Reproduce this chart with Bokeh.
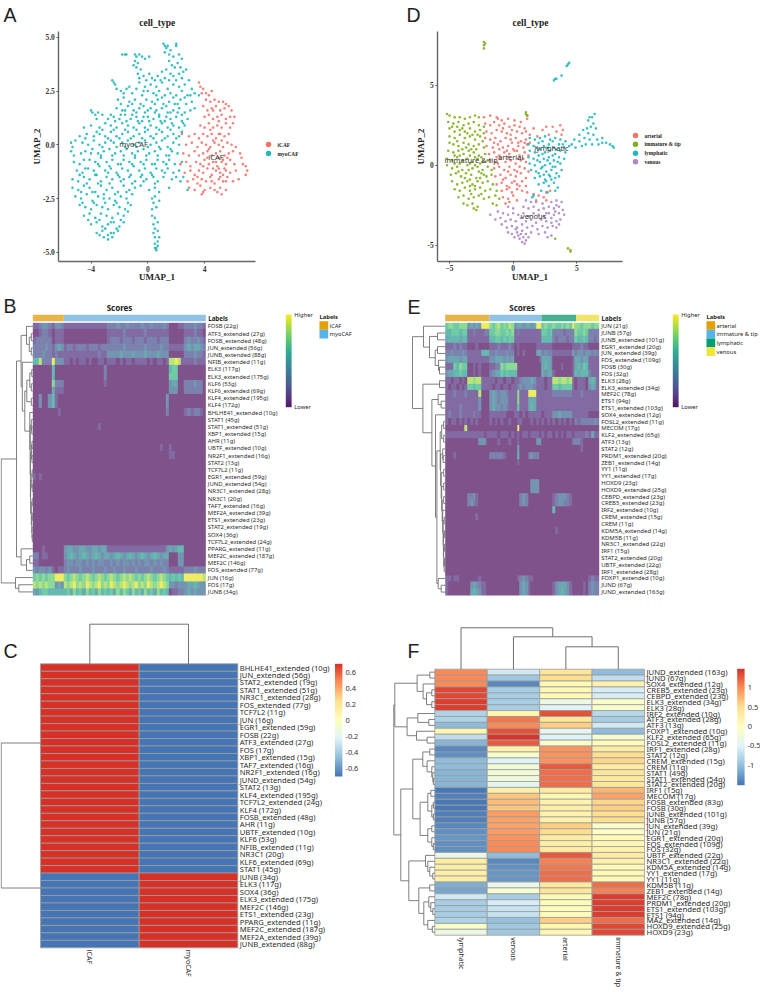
import numpy as np
from bokeh.core.properties import value
from bokeh.embed import file_html
from bokeh.layouts import column, row
from bokeh.models import ColumnDataSource, FixedTicker, LinearAxis, LinearColorMapper, NumeralTickFormatter, Range1d
from bokeh.palettes import Viridis256
from bokeh.plotting import figure
from bokeh.resources import INLINE

# ---------- panel A points (UMAP_1, UMAP_2) ----------
myocaf_points = [
(1.1,4.7),(1.2,4.6),(1.3,4.5),(1.4,4.6),(2.0,4.7),(2.0,4.6),(1.6,4.4),(1.2,4.3),(1.5,4.2),(1.8,4.1),(2.2,4.2),(2.4,4.0),(-1.8,4.2),(-1.6,4.2),(-1.5,4.2),(-0.9,4.2),(-0.8,4.1),(-0.6,4.2),(-0.4,4.1),(-0.2,4.0),(0.1,4.1),
(-0.9,3.9),(-0.7,3.8),(-0.8,3.6),(-1.0,3.7),(-0.5,3.5),(1.5,3.9),(1.7,3.7),(1.9,3.6),(2.1,3.8),(2.3,3.6),(2.5,3.4),(2.7,3.5),(1.3,3.5),(1.0,3.4),(-0.7,3.3),(-0.3,3.2),(-0.1,3.0),(0.3,3.1),(0.7,3.2),(1.2,3.1),(1.6,3.3),(2.0,3.0),(2.4,3.1),(2.9,3.0),
(-2.5,3.0),(-2.4,2.9),(-2.3,2.8),(-2.2,2.6),(-0.6,2.9),(-0.2,2.7),(0.2,2.8),(0.6,2.7),(1.0,2.9),(1.4,2.6),(1.8,2.8),(2.2,2.7),(2.6,2.8),(3.1,2.6),(-1.9,2.5),(-1.5,2.6),(-1.1,2.4),(-0.8,2.6),(-0.4,2.3),(0.0,2.5),(0.4,2.4),(0.8,2.5),(1.2,2.3),(1.6,2.4),(2.0,2.3),(2.4,2.5),(2.8,2.3),(3.3,2.4),(3.6,2.3),
(-2.1,2.1),(-1.7,2.2),(-1.3,2.0),(-0.9,2.1),(-0.5,1.9),(-0.1,2.1),(0.3,2.0),(0.7,2.1),(1.1,1.9),(1.5,2.0),(1.9,1.9),(2.3,2.1),(2.7,1.9),(3.1,2.0),(3.3,1.7),(-4.0,1.6),(-3.9,1.5),(-3.7,1.4),(-3.5,1.5),(-3.2,1.4),(-2.2,1.7),(-1.8,1.6),(-1.4,1.8),(-1.0,1.6),(-0.6,1.7),(-0.2,1.5),(0.2,1.7),(0.6,1.6),(1.0,1.7),(1.4,1.5),(1.8,1.6),(2.2,1.7),(2.6,1.5),(3.0,1.6),
(-3.6,1.2),(-2.8,1.2),(-2.4,1.3),(-2.0,1.2),(-1.6,1.4),(-1.2,1.2),(-0.8,1.3),(-0.4,1.1),(0.0,1.3),(0.4,1.2),(0.8,1.3),(1.2,1.1),(1.6,1.2),(2.0,1.3),(2.4,1.1),(2.8,1.2),(-4.5,0.8),(-4.0,0.9),(-3.4,0.8),(-3.0,1.0),(-2.6,0.9),(-2.2,0.8),(-1.8,1.0),(-1.4,0.9),(-1.0,0.8),(-0.6,1.0),(-0.2,0.8),(0.2,0.9),(0.6,0.8),(1.0,1.0),(1.4,0.8),(1.8,0.9),(2.2,0.8),(2.6,0.9),
(-4.8,0.4),(-4.3,0.5),(-3.8,0.4),(-3.4,0.5),(-3.0,0.4),(-2.6,0.6),(-2.2,0.4),(-1.8,0.5),(-1.4,0.6),(-1.0,0.4),(-0.6,0.5),(-0.2,0.6),(0.2,0.4),(0.6,0.5),(1.0,0.6),(1.4,0.4),(1.8,0.5),(2.2,0.4),(-5.4,0.1),(-5.3,-0.1),(-5.1,0.2),(-4.6,0.1),(-4.2,0.0),(-3.8,0.2),(-3.4,0.0),(-3.0,0.1),(-2.6,0.2),(-2.2,-0.1),(-1.8,0.1),(-1.4,0.2),(-1.0,0.0),(-0.6,0.1),(-0.2,0.2),(0.2,0.0),(0.6,0.1),(1.0,0.2),(1.4,-0.1),(1.8,0.1),(2.2,0.0),
(-5.4,-0.3),(-5.2,-0.5),(-4.7,-0.4),(-4.4,-0.3),(-3.9,-0.2),(-3.5,-0.4),(-3.1,-0.3),(-2.7,-0.2),(-2.3,-0.4),(-1.9,-0.3),(-1.5,-0.2),(-1.1,-0.4),(-0.7,-0.3),(-0.3,-0.2),(0.1,-0.4),(0.5,-0.3),(0.9,-0.2),(1.3,-0.5),(1.7,-0.3),(2.1,-0.4),(-5.2,-0.8),(-4.8,-0.9),(-4.1,-0.7),(-3.7,-0.8),(-3.3,-0.6),(-2.9,-0.8),(-2.5,-0.7),(-2.1,-0.9),(-1.7,-0.7),(-1.3,-0.8),(-0.9,-0.6),(-0.5,-0.8),(-0.1,-0.7),(0.3,-0.9),(0.7,-0.7),(1.1,-0.8),(1.5,-0.7),(1.9,-0.9),(2.4,-0.8),
(-5.0,-1.2),(-4.6,-1.3),(-4.2,-1.1),(-3.8,-1.2),(-3.4,-1.0),(-3.0,-1.2),(-2.6,-1.1),(-2.2,-1.3),(-1.8,-1.1),(-1.4,-1.2),(-1.0,-1.0),(-0.6,-1.2),(-0.2,-1.1),(0.2,-1.3),(0.6,-1.1),(1.0,-1.2),(1.4,-1.1),(1.8,-1.3),(2.2,-1.2),(-5.3,-1.6),(-4.9,-1.7),(-4.5,-1.5),(-4.1,-1.6),(-3.7,-1.4),(-3.3,-1.7),(-2.9,-1.5),(-2.5,-1.6),(-2.1,-1.4),(-1.7,-1.6),(-1.3,-1.5),(-0.9,-1.7),(-0.5,-1.5),(-0.1,-1.6),(0.3,-1.4),(0.7,-1.7),(1.1,-1.5),(1.7,-1.6),(2.3,-1.7),(2.5,-1.5),
(-5.3,-2.0),(-4.9,-2.1),(-4.5,-1.9),(-4.1,-2.0),(-3.7,-2.2),(-3.3,-1.9),(-2.9,-2.1),(-2.5,-2.0),(-2.1,-2.2),(-1.7,-1.9),(-1.3,-2.1),(-0.9,-2.0),(-0.5,-1.9),(0.1,-2.1),(0.5,-2.0),(0.8,-2.2),(1.5,-2.0),(2.8,-2.1),(-5.1,-2.4),(-4.7,-2.5),(-4.3,-2.3),(-3.9,-2.6),(-3.5,-2.4),(-3.1,-2.3),(-2.7,-2.5),(-2.3,-2.6),(-1.9,-2.4),(-1.5,-2.5),(-1.1,-2.3),(0.3,-2.5),(0.5,-2.4),(0.8,-2.6),(0.4,-2.7),
(-4.8,-2.8),(-4.4,-2.9),(-4.0,-3.0),(-3.6,-2.8),(-3.2,-2.9),(-2.8,-3.0),(-2.4,-2.8),(-2.0,-2.9),(-1.6,-3.0),(-1.2,-2.8),(0.3,-3.0),(0.6,-2.9),(-4.5,-3.3),(-4.1,-3.2),(-3.7,-3.4),(-3.3,-3.2),(-2.9,-3.3),(-2.5,-3.4),(-2.1,-3.2),(-1.7,-3.3),(-1.4,-3.1),(0.3,-3.3),(0.5,-3.4),(-4.0,-3.7),(-3.6,-3.6),(-3.2,-3.8),(-2.8,-3.7),(-2.4,-3.6),(-2.0,-3.8),(-1.7,-3.6),(0.4,-3.7),(0.7,-3.6),(0.5,-3.9),
(-3.6,-4.1),(-3.2,-4.0),(-2.8,-4.2),(-2.4,-4.1),(-2.1,-4.0),(0.4,-4.1),(0.7,-4.0),(0.5,-4.3),(0.8,-4.3),(-3.1,-4.3),(-2.8,-4.4),(-2.5,-4.3),(0.5,-4.6),(0.7,-4.5),(0.6,-4.8),(0.6,-4.9),(0.5,-4.8),(0.7,-4.7),
# denser core of the cloud
(-1.9,1.9),(-1.1,1.9),(-0.3,1.8),(0.5,1.9),(1.3,1.8),(2.1,1.9),(-1.6,1.6),(-0.8,1.5),(0.0,1.6),(0.8,1.4),(1.6,1.5),(2.4,1.4),(-2.6,1.4),(-1.9,1.4),(-1.1,1.4),(-0.3,1.3),(0.5,1.5),(1.3,1.3),(2.1,1.5),(-2.3,1.1),(-1.5,1.1),(-0.7,1.1),(0.1,1.1),(0.9,1.1),(1.7,1.0),(2.5,1.0),(-3.2,0.7),(-2.4,0.7),(-1.6,0.7),(-0.8,0.7),(0.0,0.7),(0.8,0.7),(1.6,0.7),(2.4,0.6),(-3.6,0.6),(-2.8,0.3),(-2.0,0.3),(-1.2,0.3),(-0.4,0.3),(0.4,0.3),(1.2,0.3),(2.0,0.3),
(-4.4,0.3),(-3.2,-0.1),(-2.4,0.1),(-1.6,-0.1),(-0.8,-0.1),(0.0,-0.1),(0.8,-0.1),(1.6,-0.2),(-4.0,-0.4),(-3.3,-0.5),(-2.5,-0.5),(-1.7,-0.5),(-0.9,-0.5),(-0.1,-0.5),(0.7,-0.5),(1.5,-0.5),(-4.5,-0.7),(-3.5,-0.9),(-2.7,-1.0),(-1.9,-0.9),(-1.1,-0.9),(-0.3,-0.9),(0.5,-0.9),(1.3,-0.9),(-4.4,-1.1),(-3.6,-1.4),(-2.8,-1.3),(-2.0,-1.5),(-1.2,-1.4),(-0.4,-1.4),(0.4,-1.5),(1.2,-1.3),(2.0,-1.5),(-4.8,-1.4),(-4.3,-1.8),(-3.5,-1.8),(-2.7,-1.8),(-1.9,-1.7),(-1.1,-1.8),(-0.3,-1.7),(0.5,-1.8),(-4.7,-2.2),(-3.9,-2.2),(-3.1,-2.5),(-2.3,-2.3),(-1.5,-2.2),(-4.6,-2.7),(-3.8,-2.7),(-3.0,-2.7),(-2.2,-2.7),(-1.4,-2.7),(-4.2,-3.5),(-3.4,-3.5),(-2.6,-3.6),(-1.9,-3.5),(-3.4,-4.2),(-2.6,-4.1),(-3.0,-3.9),(-2.2,-3.9),
(-0.6,3.1),(0.1,3.3),(0.5,3.0),(0.9,3.0),(1.5,3.0),(1.8,3.2),(2.2,3.3),(-0.3,2.5),(0.6,2.3),(1.0,2.2),(1.8,2.2),(2.6,2.2),(3.0,2.3),(-1.3,2.7),(-1.7,2.4),
]
icaf_points = [
(3.6,2.9),(3.7,2.7),(3.9,2.6),(3.8,2.4),(4.1,2.4),(4.3,2.3),(4.5,2.5),(4.1,2.1),(4.4,2.0),(4.7,2.1),(5.0,2.0),(5.3,2.0),(5.5,1.9),(3.9,1.8),(4.2,1.6),(4.5,1.7),(4.8,1.8),(5.1,1.6),(5.4,1.7),(5.7,1.8),(5.9,1.6),(4.0,1.3),(4.3,1.4),(4.6,1.2),(4.9,1.3),(5.2,1.4),(5.5,1.2),(5.8,1.3),(6.1,1.3),(6.0,1.0),
(3.7,0.9),(4.0,0.8),(4.3,1.0),(4.6,0.8),(4.9,0.9),(5.2,0.8),(5.5,1.0),(5.8,0.8),(2.4,0.5),(2.9,0.4),(3.3,0.5),(3.6,0.3),(3.9,0.5),(4.2,0.4),(4.5,0.5),(4.8,0.3),(5.1,0.5),(5.4,0.4),(5.7,0.5),(2.7,0.0),(3.1,0.1),(3.5,-0.1),(3.8,0.1),(4.1,0.0),(4.4,-0.1),(4.7,0.1),(5.0,0.0),(5.3,-0.1),(5.6,0.1),(5.9,0.0),(6.2,-0.1),
(2.5,-0.4),(2.9,-0.5),(3.3,-0.3),(3.6,-0.5),(3.9,-0.4),(4.2,-0.3),(4.5,-0.5),(4.8,-0.4),(5.1,-0.3),(5.4,-0.5),(5.7,-0.4),(6.0,-0.3),(6.5,-0.4),(6.6,-0.6),(2.3,-0.9),(2.7,-0.8),(3.0,-1.0),(3.4,-0.8),(3.7,-0.9),(4.0,-0.7),(4.3,-0.9),(4.6,-0.8),(4.9,-1.0),(5.2,-0.8),(5.5,-0.9),(5.8,-0.7),(6.1,-0.9),(6.7,-0.9),(6.9,-1.0),
(2.6,-1.3),(3.0,-1.2),(3.3,-1.4),(3.6,-1.2),(3.9,-1.3),(4.2,-1.1),(4.5,-1.4),(4.8,-1.2),(5.1,-1.3),(5.3,-1.4),(5.5,-1.2),(5.8,-1.3),(6.2,-1.2),(6.9,-1.4),(7.0,-1.2),(2.8,-1.7),(3.2,-1.6),(3.5,-1.8),(3.8,-1.6),(4.1,-1.7),(4.4,-1.5),(4.7,-1.8),(5.0,-1.6),(5.3,-1.7),(5.6,-1.5),(6.0,-1.7),(6.4,-1.6),
(2.9,-2.0),(3.3,-2.1),(3.7,-1.9),(4.0,-2.1),(4.4,-2.0),(4.7,-2.1),(5.1,-2.0),(5.5,-2.1),(3.8,-2.3),(3.9,-2.2),(4.9,-2.2),(5.2,-2.3),
(4.6,1.6),(5.0,1.1),(4.4,0.7),(5.0,0.5),(4.6,0.2),(5.2,0.2),(4.3,-0.2),(5.0,-0.6),(5.3,-0.7),(4.6,-1.1),(5.0,-1.1),(5.4,-1.1),(5.1,-1.5),(4.5,-1.7),(5.5,-1.7),(3.5,-1.5),(3.9,-1.0),(4.2,-0.6),(4.8,-0.8),(5.6,-0.6),
]

# ---------- panel D points ----------
arterial_points = [
(-2.3,3.0),(-1.8,3.1),(-1.3,3.0),(-1.2,2.9),(-0.9,2.8),(-0.4,2.9),(0.1,2.8),(0.6,2.7),(1.1,3.1),(1.1,2.9),(-2.2,2.6),(-1.8,2.5),(-1.5,2.7),(-1.1,2.5),(-0.7,2.6),(-0.3,2.4),(0.1,2.5),(0.5,2.4),(0.9,2.3),(-2.1,2.1),(-1.7,2.0),(-1.3,2.2),(-0.9,2.1),(-0.5,2.0),(-0.1,2.2),(0.3,2.1),(0.7,2.0),(1.0,2.1),(1.3,1.9),(-2.2,1.7),(-1.8,1.6),(-1.4,1.7),(-1.0,1.5),(-0.6,1.7),(-0.2,1.6),(0.2,1.7),(0.6,1.5),(1.0,1.6),(1.3,1.4),
(-2.1,1.2),(-1.6,1.1),(-1.2,1.3),(-0.8,1.1),(-0.4,1.2),(0.0,1.0),(0.4,1.2),(0.8,1.1),(1.1,1.3),(-1.9,0.7),(-1.5,0.8),(-1.1,0.6),(-0.7,0.8),(-0.3,0.7),(0.1,0.9),(0.5,0.6),(0.9,0.8),(1.2,0.6),(-1.8,0.3),(-1.4,0.2),(-1.0,0.4),(-0.6,0.2),(-0.2,0.3),(0.2,0.1),(0.6,0.3),(1.0,0.2),(-1.5,-0.2),(-1.1,-0.1),(-0.7,-0.3),(-0.3,-0.1),(0.1,-0.3),(0.5,-0.1),(0.9,-0.2),(1.2,-0.4),(-1.4,-0.7),(-1.0,-0.6),(-0.6,-0.8),(-0.2,-0.6),(0.2,-0.7),(0.6,-0.5),(1.0,-0.8),
(-1.3,-1.2),(-0.9,-1.1),(-0.5,-1.3),(-0.1,-1.1),(0.3,-1.2),(0.7,-1.0),(1.0,-1.3),(-0.9,-1.6),(-0.5,-1.5),(-0.1,-1.7),(0.3,-1.5),(0.7,-1.6),(1.1,-1.7),(-0.8,-2.0),(-0.4,-2.1),(0.0,-1.9),(0.3,-2.2),(-0.6,-2.4),(-0.3,-2.3),(1.6,-1.8),(2.0,-1.9),(2.4,-2.0),(2.6,-1.7),(2.9,-1.6),(1.8,-2.3),(2.6,-2.2),(1.9,1.8),(2.3,2.2),(2.8,1.9),(3.1,2.4),(3.4,2.1),(3.7,2.5),(3.9,2.2),(3.8,1.9),(2.6,2.4),(1.6,2.3),
(-0.8,2.3),(-0.2,1.9),(0.4,1.4),(-1.1,1.0),(-0.5,0.9),(0.3,0.9),(-1.3,0.5),(-0.4,0.5),(0.4,0.4),(-1.2,0.1),(-0.4,-0.4),(0.3,-0.4),(-0.8,-0.9),(0.1,-1.0),(0.5,-1.3),(-0.3,-1.4),(0.8,0.4),(0.9,1.4),(-0.1,1.4),(-1.5,1.4),
]
immature_points = [
(-2.3,7.7),(-2.2,7.6),(-2.3,7.5),(-2.3,7.3),(1.0,3.3),(1.0,3.2),(1.1,3.1),(4.5,-5.4),(4.3,-5.2),(4.5,-5.3),(3.3,-4.6),
(-5.2,3.2),(-5.0,3.1),(-4.6,3.0),(-4.2,3.0),(-3.8,2.9),(-3.4,3.0),(-3.0,3.1),(-2.7,3.0),(-5.1,2.7),(-4.7,2.6),(-4.3,2.7),(-3.9,2.5),(-3.5,2.6),(-3.1,2.7),(-2.7,2.5),(-2.3,2.4),(-5.0,2.3),(-4.6,2.1),(-4.2,2.2),(-3.8,2.1),(-3.4,2.3),(-3.0,2.1),(-2.6,2.2),(-2.3,2.0),(-5.0,1.8),(-4.6,1.7),(-4.2,1.9),(-3.8,1.7),(-3.4,1.8),(-3.0,1.6),(-2.6,1.8),(-2.4,1.5),
(-5.0,1.4),(-4.7,1.3),(-4.3,1.2),(-3.9,1.4),(-3.5,1.3),(-3.1,1.2),(-2.7,1.3),(-2.3,1.1),(-5.1,0.9),(-4.7,0.8),(-4.3,0.9),(-3.9,0.7),(-3.5,0.9),(-3.1,0.8),(-2.7,0.6),(-2.2,0.7),(-5.2,0.4),(-4.8,0.3),(-4.4,0.5),(-4.0,0.3),(-3.6,0.4),(-3.2,0.2),(-2.8,0.4),(-2.4,0.2),(-2.0,0.3),
(-5.2,0.0),(-4.8,-0.2),(-4.4,-0.1),(-4.0,-0.3),(-3.6,0.0),(-3.2,-0.2),(-2.8,-0.1),(-2.4,-0.3),(-2.0,-0.1),(-1.7,-0.3),(-4.9,-0.6),(-4.5,-0.5),(-4.1,-0.7),(-3.7,-0.5),(-3.3,-0.6),(-2.9,-0.8),(-2.5,-0.5),(-2.1,-0.7),(-1.7,-0.6),(-4.8,-1.0),(-4.4,-1.2),(-4.0,-1.1),(-3.6,-1.0),(-3.2,-1.2),(-2.8,-1.0),(-2.4,-1.1),(-2.0,-1.0),(-1.6,-1.2),(-4.6,-1.5),(-4.2,-1.6),(-3.8,-1.4),(-3.4,-1.6),(-3.0,-1.5),(-2.6,-1.4),(-2.2,-1.6),(-1.8,-1.5),(-1.3,-1.6),
(-4.3,-2.0),(-3.9,-1.9),(-3.5,-2.1),(-3.1,-2.0),(-2.7,-1.9),(-2.3,-2.1),(-1.9,-2.0),(-1.4,-1.9),(-1.1,-2.1),(-3.9,-2.4),(-3.6,-2.5),(-3.2,-2.4),(-2.8,-2.6),(-1.6,-2.4),(-1.3,-2.5),(-3.1,-2.7),(-2.9,-2.8),
(-4.8,2.4),(-4.4,2.4),(-4.0,2.3),(-3.6,2.0),(-3.2,1.9),(-2.8,1.9),(-4.4,1.5),(-4.0,1.0),(-3.7,1.1),(-3.3,1.0),(-2.9,1.0),(-4.6,0.6),(-4.2,0.6),(-3.4,0.6),(-3.0,0.5),(-2.5,0.5),(-4.6,0.1),(-4.2,0.1),(-3.4,0.1),(-3.0,0.0),(-2.6,0.1),(-4.3,-0.4),(-3.5,-0.3),(-2.7,-0.4),(-2.3,-0.6),(-3.8,-0.8),(-3.4,-0.9),(-2.6,-0.8),(-3.0,-1.3),(-3.4,-1.3),(-2.5,-1.8),(-3.3,-1.8),
]
lymphatic_points = [
(3.3,5.4),(3.2,5.3),(3.4,5.4),(3.8,5.6),(4.3,6.3),(4.4,6.4),(4.2,6.2),
(6.4,3.2),(6.2,3.0),(6.0,3.0),(5.9,2.8),(6.3,2.6),(6.1,2.4),(5.8,2.3),(6.5,2.3),(5.5,2.2),(5.9,2.0),(6.3,1.9),(5.2,1.9),(5.6,1.7),(6.0,1.6),(6.6,1.6),(7.0,1.7),(4.8,1.6),(5.2,1.5),(5.7,1.3),(6.2,1.3),(6.7,1.3),(7.0,1.4),(7.3,1.4),(7.6,1.3),(7.8,1.2),(7.9,1.1),(4.6,1.3),(4.9,1.1),(5.4,1.2),
(1.3,1.7),(1.7,1.6),(2.1,1.7),(2.5,1.8),(2.9,1.6),(3.3,1.7),(3.7,1.6),(4.1,1.5),(1.2,1.3),(1.6,1.2),(2.0,1.4),(2.4,1.2),(2.8,1.3),(3.2,1.1),(3.6,1.3),(4.0,1.1),(4.4,1.2),(1.3,0.9),(1.7,0.8),(2.1,1.0),(2.5,0.8),(2.9,0.9),(3.3,0.7),(3.7,0.9),(4.1,0.8),(1.2,0.5),(1.6,0.4),(2.0,0.6),(2.4,0.4),(2.8,0.5),(3.2,0.3),(3.6,0.5),(4.0,0.4),(1.3,0.1),(1.7,0.0),(2.1,0.2),(2.5,0.0),(2.9,0.1),(3.3,-0.1),(3.7,0.1),
(1.4,-0.3),(1.8,-0.4),(2.2,-0.2),(2.6,-0.4),(3.0,-0.3),(3.4,-0.5),(3.8,-0.3),(1.7,-0.8),(2.1,-0.7),(2.5,-0.9),(2.9,-0.7),(3.3,-0.8),(3.6,-0.7),(2.0,-1.2),(2.4,-1.1),(2.8,-1.3),(3.2,-1.1),(3.5,-1.4),(2.2,-1.6),(2.7,-1.7),(3.3,-1.6),(1.6,-1.9),(1.5,-2.0),
(2.3,1.5),(3.1,1.5),(3.9,1.3),(1.9,1.1),(2.7,1.1),(3.4,1.0),(2.3,0.7),(3.1,0.6),(1.9,0.3),(2.7,0.3),(3.5,0.2),(2.3,-0.1),(3.1,-0.1),(2.0,-0.5),(2.8,-0.6),(2.4,-0.6),(3.0,-0.9),(2.6,-1.0),
]
venous_points = [
(1.0,-2.2),(1.4,-2.3),(1.8,-2.2),(2.3,-2.4),(3.0,-2.3),(3.4,-2.2),(3.8,-2.3),(-0.4,-2.6),(0.0,-2.7),(0.8,-2.6),(1.2,-2.7),(1.6,-2.6),(2.0,-2.8),(2.4,-2.7),(2.8,-2.6),(3.2,-2.7),(3.6,-2.6),(3.9,-2.8),(-1.2,-2.9),(-0.8,-3.0),(-0.4,-3.1),(0.0,-3.0),(0.4,-3.1),(0.8,-3.0),(1.2,-3.2),(1.6,-3.0),(2.0,-3.1),(2.4,-3.2),(2.8,-3.0),(3.2,-3.1),(3.6,-3.0),(4.0,-3.1),
(-1.8,-3.1),(-1.4,-3.4),(-1.0,-3.3),(-0.6,-3.5),(-0.2,-3.4),(0.2,-3.5),(0.6,-3.3),(1.0,-3.5),(1.4,-3.4),(1.8,-3.6),(2.2,-3.4),(2.6,-3.5),(3.0,-3.3),(3.4,-3.5),(3.7,-3.4),(-0.9,-3.7),(-0.5,-3.9),(-0.1,-3.8),(0.3,-3.9),(0.7,-3.7),(1.1,-3.9),(1.5,-3.8),(1.9,-4.0),(2.3,-3.8),(2.7,-3.9),(3.1,-3.8),(3.4,-3.9),(-0.4,-4.2),(-0.1,-4.3),(0.3,-4.2),(0.7,-4.1),(1.0,-4.3),(1.4,-4.2),(2.0,-4.3),(2.5,-4.2),(3.0,-4.4),(0.1,-4.5),(0.5,-4.6),(0.8,-4.5),(1.0,-4.7),(0.7,-4.8),(0.9,-4.9),(1.2,-4.5),(2.7,-4.5),
(3.3,-2.9),(3.0,-3.6),(3.6,-3.7),(2.6,-3.0),(3.4,-2.5),(0.4,-4.4),(0.6,-4.3),(0.2,-4.0),
]

# ---------- panel B ----------
B_labels = ["FOSB (22g)","ATF3_extended (27g)","FOSB_extended (48g)","JUN_extended (56g)","JUNB_extended (88g)","NFIB_extended (11g)","ELK3 (117g)","ELK3_extended (175g)","KLF6 (53g)","KLF6_extended (69g)","KLF4_extended (195g)","KLF4 (172g)","BHLHE41_extended (10g)","STAT1 (45g)","STAT1_extended (51g)","XBP1_extended (15g)","AHR (11g)","UBTF_extended (10g)","NR2F1_extended (16g)","STAT2 (13g)","TCF7L2 (11g)","EGR1_extended (59g)","JUND_extended (54g)","NR3C1_extended (28g)","NR3C1 (20g)","TAF7_extended (16g)","MEF2A_extended (39g)","ETS1_extended (23g)","STAT2_extended (19g)","SOX4 (36g)","TCF7L2_extended (24g)","PPARG_extended (11g)","MEF2C_extended (187g)","MEF2C (146g)","FOS_extended (77g)","JUN (16g)","FOS (17g)","JUNB (34g)"]
# one digit per column block: 0 lowest score, 9 highest score
B_scores = [
"112332 1 332 11111111111111 22232232222322322232 000 11 222322 1",
"001221 0 111 00000000000000 11111211111121111111 000 00 111211 0",
"122222 0 111 00000000000000 12221222122212221222 000 00 232232 1",
"222232 1 343 12212221222122 22222322222232222322 111 11 343443 2",
"222322 1 211 11111111111211 33334333433343334333 000 00 222322 1",
"558222 9 333 11010110100110 11101011011110101101 889 81 111211 1",
"000000 5 000 00000000000002 00000000000000000000 566 00 000000 0",
"000000 5 000 00000000000002 00000000000000000000 666 00 000000 0",
"000000 7 222 00000000000001 00000000000000000000 344 00 222322 0",
"000000 4 111 00000000000000 00000000000000000000 333 00 222222 0",
"003003 5 100 00000000000000 00000000000000000003 000 00 000000 0",
"003003 5 100 00000000000000 00000000000000000003 000 00 000000 0",
"000000 0 010 00000000000000 00000000000000000002 000 00 121221 0",
"000000 0 000 00000000000000 00000000000000000000 000 00 000000 0",
"000000 0 000 00000000000100 00000000000000000000 000 00 000000 0",
"000000 0 000 00000000000000 00000000000000000000 000 00 000000 0",
"000000 0 000 00000000000000 00000000000000000000 000 00 000000 0",
"000000 0 000 00000000000000 00000000000000000100 100 00 000000 0",
"000000 0 000 00000000000000 00000000000000000000 110 00 000000 0",
"000000 0 000 00000000000000 00000000000000000000 000 00 000000 0",
"000000 0 000 00000000000000 00000000000000000000 000 00 000000 0",
"101000 0 000 00000000000000 00000000000000000000 000 00 000000 0",
"000000 0 000 00000000000000 00000000000000000000 000 00 000000 0",
"000000 0 000 00000000000000 00000000000000000000 000 00 000000 0",
"000000 0 000 00000000000000 00000000000000000000 000 00 000000 0",
"000000 0 000 00000000000000 00000000000000000000 000 00 000000 0",
"000000 0 000 00000000000000 00000000000000000000 000 00 000000 0",
"000000 0 000 00000000000000 00000000000000000000 000 00 000000 0",
"000000 0 000 00000000000000 00000000000000000000 000 00 000000 0",
"000000 0 000 00000000000000 00000000000000000000 000 00 000000 0",
"000000 0 000 00000000000000 00000000000000000000 000 00 000000 0",
"000100 0 000 34433443344344 11111111111111111113 434 55 000000 0",
"220110 0 000 34543454345434 43454345434543454344 000 33 000000 0",
"110000 0 000 23323323232332 23232332323233232322 000 33 000000 0",
"323323 1 011 23222322232223 22322322232222322232 111 11 222322 2",
"676767 7 999 76787678767876 78767878767678767876 565 65 999999 8",
"878787 7 343 87897879878978 79878987897879878987 332 33 344543 3",
"435665 5 555 56475647564756 56475764756475647565 011 22 343433 3",
]
# dendrogram: (height, child, child); a child is a row number or another node
B_flat = (3,12,(2.6,(1.5,13,(1,14,15)),(2.4,(1.2,(0.8,16,17),(0.8,18,19)),(2.2,(1,(0.6,20,21),(0.6,22,23)),(1.5,(0.6,24,25),(1,(0.6,26,27),(0.8,28,(0.5,29,30))))))))
B_upper = (11.7,(6.3,0,(3.5,(1.5,1,2),(1.5,3,4))),(10.5,5,(8,(6,(3,(1,6,7),(1.5,8,9)),(1.5,10,11)),B_flat)))
B_lower = (11.7,31,(6.3,(3,32,33),34))
B_tree = (31.6,(16.3,B_upper,B_lower),(17.3,35,(14,36,37)))

# ---------- panel C ----------
C_labels = ["BHLHE41_extended (10g)","JUN_extended (56g)","STAT2_extended (19g)","STAT1_extended (51g)","NR3C1_extended (28g)","FOS_extended (77g)","TCF7L2 (11g)","JUN (16g)","EGR1_extended (59g)","FOSB (22g)","ATF3_extended (27g)","FOS (17g)","XBP1_extended (15g)","TAF7_extended (16g)","NR2F1_extended (16g)","JUND_extended (54g)","STAT2 (13g)","KLF4_extended (195g)","TCF7L2_extended (24g)","KLF4 (172g)","FOSB_extended (48g)","AHR (11g)","UBTF_extended (10g)","KLF6 (53g)","NFIB_extended (11g)","NR3C1 (20g)","KLF6_extended (69g)","STAT1 (45g)","JUNB (34g)","ELK3 (117g)","SOX4 (36g)","ELK3_extended (175g)","MEF2C (146g)","ETS1_extended (23g)","PPARG_extended (11g)","MEF2C_extended (187g)","MEF2A_extended (39g)","JUNB_extended (88g)"]
C_columns = ["iCAF","myoCAF"]
C_icaf = [0.707]*28 + [-0.707]*10
C_myocaf = [-0.707]*28 + [0.707]*10

# ---------- panel E ----------
E_labels = ["JUN (21g)","JUNB (57g)","JUNB_extended (101g)","EGR1_extended (20g)","JUN_extended (39g)","FOS_extended (109g)","FOSB (30g)","FOS (32g)","ELK3 (28g)","ELK3_extended (34g)","MEF2C (78g)","ETS1 (94g)","ETS1_extended (103g)","SOX4_extended (12g)","FOSL2_extended (11g)","MECOM (17g)","KLF2_extended (65g)","ATF3 (13g)","STAT2 (12g)","PRDM1_extended (20g)","ZEB1_extended (14g)","YY1 (11g)","YY1_extended (17g)","HOXD9 (23g)","HOXD9_extended (25g)","CEBPD_extended (23g)","CREB5_extended (23g)","IRF2_extended (10g)","CREM_extended (15g)","CREM (11g)","KDM5A_extended (14g)","KDM5B (11g)","NR3C1_extended (22g)","IRF1 (15g)","STAT2_extended (20g)","UBTF_extended (22g)","IRF1_extended (28g)","FOXP1_extended (10g)","JUND (67g)","JUND_extended (163g)"]
E_scores = [
"67766777 34343 999 767867687 3 4 434 434 99 6766 7667676 9 77677 767 7",
"55666566 11211 122 667766767 1 2 111 111 11 6656 2222122 2 76676 222 2",
"45555455 11111 111 556656566 1 1 111 111 11 5555 2122212 2 65565 221 2",
"11121211 00010 000 111211121 0 1 000 000 11 1111 0000000 1 11211 000 0",
"22322232 11111 555 223222322 0 1 010 000 44 2322 1111111 4 23323 323 2",
"34444344 11111 111 334443434 0 0 000 000 01 4443 0000000 1 44344 111 1",
"11165766 00101 000 112276777 7 0 000 000 00 4543 0001000 1 45465 111 1",
"34455655 00101 000 234465655 5 0 000 000 00 4344 1000000 1 54555 211 1",
"11011010 88788 111 110110110 1 1 233 343 11 1011 8878878 1 01110 454 1",
"10110101 66566 111 101101101 1 2 323 332 11 1011 6656666 1 01110 343 1",
"11121112 11118 000 343233211 1 7 111 999 11 1111 2222222 1 11211 111 1",
"11111111 11113 000 343233311 1 7 111 444 11 1111 1111111 1 11111 111 1",
"11111211 11113 000 343323211 1 6 111 454 11 1111 1111111 1 11111 111 1",
"12111211 11211 000 111111000 1 1 010 111 11 0111 3343333 1 11111 000 0",
"10110101 01010 000 101010010 0 1 100 010 10 1010 1010101 0 21222 223 2",
"00000008 00000 000 000000000 0 9 000 000 00 0000 0000000 0 00000 000 0",
"11111111 11111 101 111011101 0 1 011 011 10 1011 0101011 0 11112 141 1",
"00000000 00003 330 000100010 0 1 000 000 33 0000 0000000 2 22100 000 0",
"00000000 00000 000 000000000 0 4 000 000 00 0000 0000000 0 00100 000 0",
"00010000 00000 000 222221000 0 5 000 232 20 0000 0000000 0 00000 000 0",
"00000000 00000 000 000000000 0 1 000 000 00 0000 0000000 0 00000 000 0",
"00000000 00000 000 000000000 0 0 000 000 00 0000 0000000 0 00000 000 0",
"00000000 00000 000 000000000 0 0 000 000 00 0000 0000000 0 00000 000 0",
"00000000 00000 000 000000000 0 0 000 033 30 0000 0000000 0 00000 000 0",
"00000000 00000 000 000000000 0 0 000 033 30 0000 0000000 0 00000 000 0",
"00000000 22310 000 000000000 0 0 232 000 00 0000 1233321 0 00000 000 0",
"00000000 23210 000 000000000 0 0 232 000 00 0000 1233221 0 00000 000 0",
"00000000 00000 000 000000000 0 0 000 000 00 0000 5000000 0 00000 000 0",
"00000000 00010 000 000000000 0 0 000 000 00 0000 0000000 0 00000 000 0",
"00000000 00000 000 000000000 0 0 000 000 00 0000 0000000 0 00000 000 0",
"00000000 00000 000 000000000 0 0 000 000 00 0000 0100000 0 00000 000 0",
"00000000 00000 000 000000000 0 0 000 000 00 0000 0000000 0 00000 000 0",
"00000000 00000 000 000000000 0 0 000 000 00 0000 0000000 0 00000 000 0",
"00000000 00000 000 000000000 0 0 000 000 00 0000 0000000 0 00000 000 0",
"00000000 00000 000 000000000 0 0 000 000 00 0000 0000000 0 00000 000 0",
"00000000 00000 000 000000000 0 0 000 000 00 0000 0000000 0 00000 000 0",
"00000000 00000 000 000000000 0 0 000 000 00 0000 0000000 0 00000 000 0",
"11011000 00001 000 000000000 0 1 232 110 00 0000 0000000 0 00000 121 1",
"10000000 03432 110 000000000 0 0 343 100 00 0000 1344431 0 00010 232 2",
"10000000 04543 110 000000000 0 0 343 100 00 0000 1345431 0 00010 232 2",
]
E_H = (5,(3.5,(1.5,14,15),(1.5,16,17)),(4.5,(2.5,18,(2,19,20)),(4,(1.5,21,22),(3.5,(1.5,23,24),(3,(1.5,25,26),(2.5,27,(2,(1,28,29),(1.8,(0.8,30,31),(1.5,(0.8,32,33),(1,(0.6,34,35),36))))))))))
E_tree = (32.7,(21.7,0,(15.7,(7.7,1,2),(10,(7.7,3,4),(6.7,5,(5.7,6,7))))),
          (22.3,(5.7,8,9),(13.3,(7,10,(4,11,12)),(9.7,13,(8.3,E_H,(7,37,(4,38,39)))))))

# ---------- panel F ----------
F_labels = ["JUND_extended (163g)","JUND (67g)","SOX4_extended (12g)","CREB5_extended (23g)","CEBPD_extended (23g)","ELK3_extended (34g)","ELK3 (28g)","IRF2_extended (10g)","ATF3_extended (28g)","ATF3 (13g)","FOXP1_extended (10g)","KLF2_extended (65g)","FOSL2_extended (11g)","IRF1_extended (28g)","STAT2 (12g)","CREM_extended (15g)","CREM (11g)","STAT1 (49g)","STAT1_extended (54g)","STAT2_extended (20g)","IRF1 (15g)","MECOM (17g)","FOSB_extended (83g)","FOSB (30g)","JUNB_extended (101g)","JUNB (57g)","JUN_extended (39g)","JUN (21g)","EGR1_extended (20g)","FOS_extended (109g)","FOS (32g)","UBTF_extended (22g)","NR3C1_extended (22g)","KDM5A_extended (14g)","YY1_extended (17g)","YY1 (11g)","KDM5B (11g)","ZEB1_extended (14g)","MEF2C (78g)","PRDM1_extended (20g)","ETS1_extended (103g)","ETS1 (94g)","MAZ_extended (14g)","HOXD9_extended (25g)","HOXD9 (23g)"]
F_columns = ["lymphatic","venous","arterial","immature & tip"]
F_lymphatic = [1.0,1.0,1.0,1.35,1.35,1.4,1.4,-0.8,-0.8,-1.0,0.15,-0.7,-1.05,-1.35,-1.3,-1.0,-1.0,-1.05,-1.05,-1.05,-1.45,-1.4,-1.45,-1.45,-1.4,-1.4,-1.35,-1.3,-1.25,-1.3,-1.3,-0.35,0.3,0.25,0.25,0.25,-1.1,-1.15,-0.6,-0.85,-0.85,-0.85,-0.8,-0.1,-0.3]
F_venous = [-0.6,-0.9,-1.35,-0.85,-0.85,-0.85,-0.85,0.15,1.1,1.0,1.3,1.45,1.25,0.2,-0.1,-0.5,-0.2,-0.2,-0.25,-0.4,0.25,0.65,0.7,0.65,0.9,0.85,0.85,0.9,0.95,1.0,1.0,-1.0,-1.35,-1.3,-1.25,-1.25,-0.35,-0.15,-0.85,-0.55,-0.65,-0.65,-0.95,-0.9,-0.9]
F_arterial = [0.4,0.5,0.1,0.1,0.1,-0.3,-0.5,1.3,0.4,0.6,-0.4,-0.5,-0.1,0.95,0.95,0.95,1.25,1.15,1.15,1.15,0.3,0.15,0.2,0.25,0.2,0.2,0.6,0.5,0.3,0.25,0.3,1.25,1.05,1.1,1.15,1.15,0.35,0.4,0.1,0.05,0.05,0.05,0.6,0.15,0.15]
F_immature = [-1.0,-0.7,0.2,-0.55,-0.55,-0.1,-0.1,-0.75,-0.85,-0.6,-1.0,-0.15,0.05,0.3,0.5,0.55,0.3,0.4,0.35,0.4,0.75,0.85,0.55,0.6,0.5,0.5,-0.1,-0.05,0.1,0.15,0.2,0.3,0.2,0.1,0.1,0.1,1.15,1.05,1.4,1.4,1.4,1.4,1.15,1.35,1.35]
F_tree = (41,(40,(17.7,(5,0,1),(11.7,2,(8.3,(3,3,4),(3,5,6)))),
              (27.7,(17,7,(6,8,9)),(18.3,10,(7.7,11,12)))),
          (34,(22,(12,(5,13,14),(7.7,15,(3,16,(2,17,(1.5,18,19))))),
                  (14.7,(7,(4,20,21),(3,(1.5,22,23),(1.5,24,25))),(7,(3,26,27),(3,28,(1.5,29,30))))),
              (26,(9.3,31,(7,32,(5,33,(2,34,35)))),
                  (16,(5,36,37),(11,(6,38,(4,39,(2,40,41))),(7,42,(2.5,43,44)))))))
F_col_tree = (41.4,0,(32.4,1,(22.4,2,3)))
C_col_tree = (39.6,0,1)
C_row_tree = (39.3,10.1,29.5)

RDYLBU = ["#4575B4","#91BFDB","#E0F3F8","#FFFFBF","#FEE090","#FC8D59","#D73027"]
def ramp(colors, n=256):
    rgb = np.array([[int(c[i:i+2],16) for i in (1,3,5)] for c in colors],float)
    t = np.linspace(0,len(colors)-1,n)
    return ["#%02X%02X%02X"%tuple(int(round(np.interp(v,range(len(colors)),rgb[:,k]))) for k in range(3)) for v in t]
def washed(colors, alpha):
    out=[]
    for c in colors:
        rgb=[int(c[i:i+2],16) for i in (1,3,5)]
        out.append("#%02X%02X%02X"%tuple(int(round(alpha*v+(1-alpha)*255)) for v in rgb))
    return out
HEAT_PAL = ramp(RDYLBU)
SCORE_PAL = washed(Viridis256,0.68)
BAR_PAL = washed(Viridis256,0.92)

SANS = "Noto Sans"; SERIF = "Liberation Serif"; INK = "#222222"

def panel(x0,x1,y0,y1,xr,yr):
    p = figure(width=x1-x0,height=y1-y0,x_range=Range1d(*xr),y_range=Range1d(*yr),x_axis_location=None,y_axis_location=None,
               toolbar_location=None,output_backend="svg",min_border=0,outline_line_color=None)
    p.grid.visible=False
    return p

def put(p,x,y,txt,size,font=SANS,style="normal",align="left",baseline="middle",color=INK,angle=0):
    p.text([x],[y],text=[txt],text_font=value(font),text_font_size=f"{size}px",text_font_style=style,text_align=align,
           text_baseline=baseline,text_color=color,angle=angle)

def umap_panel(box,letter,letter_xy,x_zero,x_scale,y_zero,y_scale,left,right,top,bottom,xticks,yticks,yfmt,title_x,groups,labels,legend_x,legend_ys,ylabel_standoff):
    x0,x1,y0,y1 = box
    X = lambda px:(px-x_zero)/x_scale
    Y = lambda py:(y_zero-py)/y_scale
    p = panel(x0,x1,y0,y1,(X(x0),X(x1)),(Y(y1),Y(y0)))
    common = dict(axis_line_color="#666666",axis_line_width=1.4,major_tick_line_color="#555555",major_tick_in=0,major_tick_out=2,minor_tick_line_color=None,
        major_label_text_font=SERIF,major_label_text_font_style="bold",major_label_text_font_size="7.5px",major_label_text_color="#333333",major_label_standoff=2,
        axis_label_text_font=SERIF,axis_label_text_font_style="bold",axis_label_text_font_size="9px",axis_label_text_color=INK)
    xa = LinearAxis(fixed_location=Y(bottom),bounds=(X(left),X(right)),ticker=FixedTicker(ticks=xticks),axis_label="UMAP_1",axis_label_standoff=-3,**common)
    ya = LinearAxis(fixed_location=X(left),bounds=(Y(bottom),Y(top)),ticker=FixedTicker(ticks=yticks),formatter=NumeralTickFormatter(format=yfmt),axis_label="UMAP_2",axis_label_standoff=ylabel_standoff,**common)
    p.add_layout(xa,"below"); p.add_layout(ya,"left")
    for pts,color,name in groups:
        xs,ys = zip(*pts)
        p.scatter(xs,ys,size=2.6,color=color,line_color=None,alpha=0.9)
    for (lx,ly,txt) in labels:
        put(p,lx,ly,txt,7.5,align="center",color="#333333")
    for (pts,color,name),py in zip(groups,legend_ys):
        p.scatter([X(legend_x)],[Y(py)],size=5.5,color=color,line_color=None)
        put(p,X(legend_x+9),Y(py),name,5.4,font=SERIF,style="bold")
    put(p,X(title_x),Y(22.5),"cell_type",9.5,font=SERIF,style="bold",align="center")
    put(p,X(letter_xy[0]),Y(letter_xy[1]),letter,19.5,font="Liberation Sans",baseline="alphabetic")
    return p

def draw_tree(tree):
    verts=[];arms=[]
    def walk(n):
        if not isinstance(n,tuple):
            return float(n),0.0
        h,a,b=n
        pa,ha=walk(a);pb,hb=walk(b)
        verts.append((h,pa,pb));arms.append((h,ha,pa));arms.append((h,hb,pb))
        return (pa+pb)/2,h
    walk(tree)
    return verts,arms

def row_tree(p,tree,c,color="#707070",width=0.9):
    # heights are pixels left of the heat map, c is pixels per column
    v,a=draw_tree(tree)
    p.segment([-h/c for h,_,_ in v],[-u for _,u,_ in v],[-h/c for h,_,_ in v],[-w for _,_,w in v],line_color=color,line_width=width)
    p.segment([-h/c for h,_,_ in a],[-y for _,_,y in a],[-k/c for _,k,_ in a],[-y for _,_,y in a],line_color=color,line_width=width)

def col_tree(p,tree,r,color="#707070",width=1.0):
    v,a=draw_tree(tree)
    top=0.5
    p.segment([u+.5 for _,u,_ in v],[top+h/r for h,_,_ in v],[w+.5 for _,_,w in v],[top+h/r for h,_,_ in v],line_color=color,line_width=width)
    p.segment([y+.5 for _,_,y in a],[top+h/r for h,_,_ in a],[y+.5 for _,_,y in a],[top+k/r for _,k,_ in a],line_color=color,line_width=width)

def row_axis(p,labels,at,size):
    ax=LinearAxis(fixed_location=at,ticker=FixedTicker(ticks=[-i for i in range(len(labels))]),
        major_label_overrides={-i:t for i,t in enumerate(labels)},axis_line_color=None,major_tick_line_color=None,minor_tick_line_color=None,
        major_tick_in=0,major_tick_out=0,major_label_text_font=SANS,major_label_text_font_size=f"{size}px",major_label_text_color="#2a2a2a",major_label_standoff=2)
    p.add_layout(ax,"right")

def col_axis(p,labels,at,size):
    ax=LinearAxis(fixed_location=at,ticker=FixedTicker(ticks=[i+.5 for i in range(len(labels))]),
        major_label_overrides={i+.5:t for i,t in enumerate(labels)},axis_line_color=None,major_tick_line_color=None,minor_tick_line_color=None,
        major_tick_in=0,major_tick_out=0,major_label_text_font=SANS,major_label_text_font_size=f"{size}px",major_label_text_color="#2a2a2a",major_label_standoff=2,major_label_orientation=-np.pi/2)
    p.add_layout(ax,"below")

def score_panel(box,letter,letter_xy,left,right,top,bottom,scores,labels,tree,ann,legend_names,title_x,cbar_x,leg_x,label_size):
    x0,x1,y0,y1=box
    rows=[list(s.replace(" ","")) for s in scores]
    N=len(rows[0]); n=len(rows)
    arr=np.array(rows,dtype=float)
    c=(right-left)/N; r=(bottom-top)/n
    X=lambda px:(px-left)/c
    Y=lambda py:-((py-top)/r-.5)
    p=panel(x0,x1,y0,y1,(X(x0),X(x1)),(Y(y1),Y(y0)))
    mapper=LinearColorMapper(low=0,high=9.4,palette=SCORE_PAL)
    p.image(image=[arr[::-1]],x=0,y=Y(bottom),dw=N,dh=n,color_mapper=mapper)
    row_tree(p,tree,c)
    row_axis(p,labels,N,label_size)
    for (a,b,color) in ann:
        p.quad(left=[X(a)],right=[X(b)],top=[Y(314.3)],bottom=[Y(320.7)],fill_color=color,line_color=None)
    put(p,X(title_x),Y(306.5),"Scores",8,style="bold",align="center")
    put(p,X(right+2.4),Y(317.5),"Labels",6.2,style="bold")
    cb=np.linspace(0,9,256)[:,None]
    bar_map=LinearColorMapper(low=0,high=9,palette=BAR_PAL)
    p.image(image=[cb],x=X(cbar_x),y=Y(406.7),dw=5.8/c,dh=(406.7-314)/r,color_mapper=bar_map)
    put(p,X(cbar_x+8.5),Y(314),"Higher",5.8)
    put(p,X(cbar_x+8.5),Y(406.7),"Lower",5.8)
    put(p,X(leg_x),Y(316),"Labels",5.8,style="bold")
    for i,(name,color) in enumerate(legend_names):
        p.quad(left=[X(leg_x)],right=[X(leg_x+8.7)],top=[Y(320.7+8.67*i)],bottom=[Y(320.7+8.67*(i+1))],fill_color=color,line_color=None)
        put(p,X(leg_x+10),Y(325+8.67*i),name,5.8)
    put(p,X(letter_xy[0]),Y(letter_xy[1]),letter,19.5,font="Liberation Sans",baseline="alphabetic")
    return p

def clust_panel(box,letter,letter_xy,left,right,top,bottom,columns,labels,vals,row_t,col_t,low,high,cb_x,cb_top,cb_bot,cb_ticks,zero_y,per_unit,label_size,col_size,cb_size):
    x0,x1,y0,y1=box
    N=len(columns); n=len(labels)
    c=(right-left)/N; r=(bottom-top)/n
    X=lambda px:(px-left)/c
    Y=lambda py:-((py-top)/r-.5)
    p=panel(x0,x1,y0,y1,(X(x0),X(x1)),(Y(y1),Y(y0)))
    mapper=LinearColorMapper(low=low,high=high,palette=HEAT_PAL)
    xs=[];ys=[];vs=[]
    for j,col in enumerate(vals):
        for i,v in enumerate(col):
            xs.append(j+.5);ys.append(-i);vs.append(v)
    src=ColumnDataSource(dict(x=xs,y=ys,v=vs))
    p.rect("x","y",width=1,height=1,source=src,fill_color={"field":"v","transform":mapper},line_color="#9c9c9c",line_width=0.8)
    row_tree(p,row_t,c)
    col_tree(p,col_t,r)
    row_axis(p,labels,N,label_size)
    col_axis(p,columns,Y(bottom),col_size)
    cb=np.linspace(low,high,256)[:,None]
    p.image(image=[cb],x=X(cb_x),y=Y(cb_bot),dw=7.4/c,dh=(cb_bot-cb_top)/r,color_mapper=mapper)
    for tv in cb_ticks:
        put(p,X(cb_x+10.5),Y(zero_y-tv*per_unit),f"{tv:g}",cb_size,color="#333333")
    put(p,X(letter_xy[0]),Y(letter_xy[1]),letter,19.5,font="Liberation Sans",baseline="alphabetic")
    return p

RED="#F0746B"; TEAL="#22B8BD"; GREEN="#7FAF1B"; PURPLE="#AE86C8"
a=umap_panel((0,380,0,290),"A",(3,14),147.3,14.2,144.3,21.5,58.3,255,31,261,[-4,0,4],[-5,-2.5,0,2.5,5],"0.0",156.7,
    [(icaf_points,RED,"iCAF"),(myocaf_points,TEAL,"myoCAF")],[(-1.0,0.05,"myoCAF"),(4.8,-0.55,"iCAF")],268,[144,153],-2)
d=umap_panel((380,760,0,290),"D",(406,14),512.7,12.73,164.7,16,437.3,622.3,31,260.7,[-5,0,5],[-5,0,5],"0",530,
    [(arterial_points,RED,"arterial"),(immature_points,GREEN,"immature & tip"),(lymphatic_points,TEAL,"lymphatic"),(venous_points,PURPLE,"venous")],
    [(-3.3,0.3,"immature & tip"),(-0.2,0.5,"arterial"),(3.0,1.05,"lymphatic"),(1.6,-3.2,"venous")],635,[135,143.7,152.7,161.3],-2)
ORANGE_A="#E8B348";BLUE_A="#8EC3E6";GREEN_A="#46B08F";YEL_A="#EFE36A"
b=score_panel((0,380,290,600),"B",(3,305.7),32.3,205.3,322.3,595,B_scores,B_labels,B_tree,[(32.3,63.3,ORANGE_A),(63.3,205.3,BLUE_A)],
    [("iCAF","#E69F00"),("myoCAF","#56B4E9")],119,285.3,319,5.9)
e=score_panel((380,760,290,600),"E",(407,306.7),444.7,598.7,322.3,595,E_scores,E_labels,E_tree,
    [(444.7,489,ORANGE_A),(489,541,BLUE_A),(541,575.7,GREEN_A),(575.7,598.7,YEL_A)],
    [("arterial","#E69F00"),("immature & tip","#56B4E9"),("lymphatic","#009E73"),("venous","#F0E442")],521.7,672.3,706,6.0)
c=clust_panel((0,380,600,992),"C",(3,650),40,237.3,663.3,947.3,C_columns,C_labels,[C_icaf,C_myocaf],C_row_tree,C_col_tree,-0.707,0.707,
    334.5,663.3,776,[0.6,0.4,0.2,0,-0.2,-0.4,-0.6],720,80,7.6,7,7.4)
f=clust_panel((380,760,600,992),"F",(407,650),434.3,644,668.7,934.7,F_columns,F_labels,[F_lymphatic,F_venous,F_arterial,F_immature],F_tree,F_col_tree,-1.48,1.48,
    736.7,668.3,784.7,[1,0.5,0,-0.5,-1],726,38.9,7.7,7,7.4)

layout=row(column(a,b,c),column(d,e,f))
open("out.html","w").write(file_html(layout,INLINE))
